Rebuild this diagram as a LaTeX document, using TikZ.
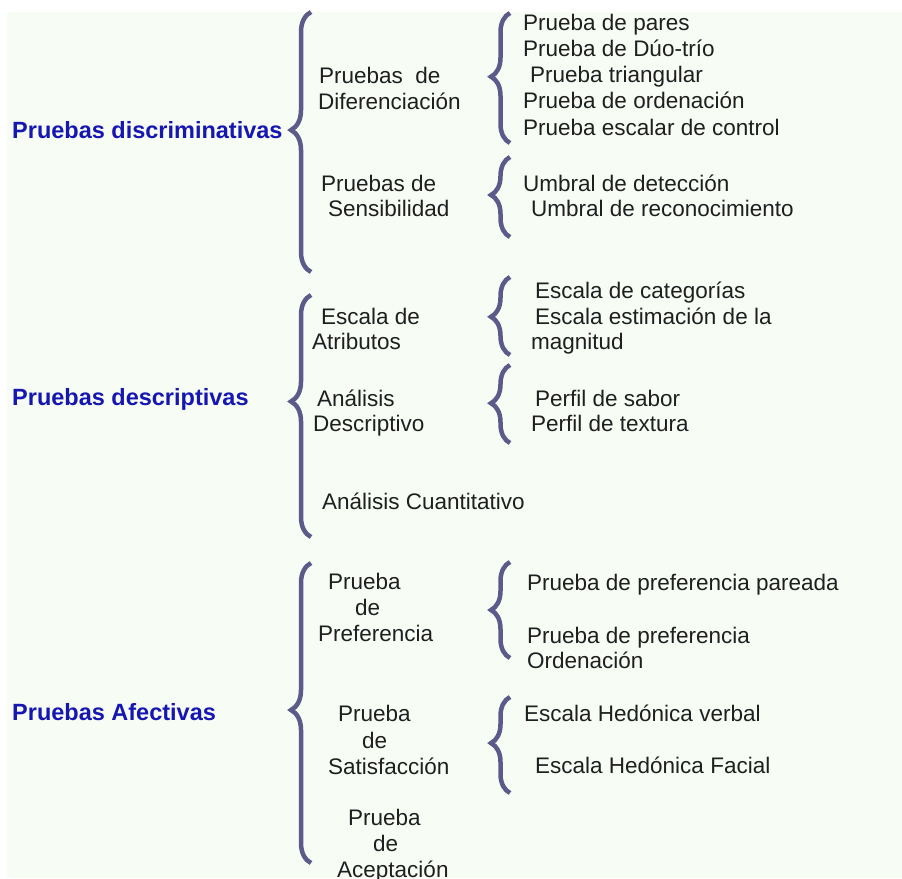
\documentclass[tikz,border=0pt]{standalone}
\usepackage{fontspec}
\setmainfont{Liberation Sans}
\usetikzlibrary{decorations.pathreplacing}
\definecolor{fondo}{RGB}{247,252,245}
\definecolor{llave}{RGB}{92,90,138}
\definecolor{titulo}{RGB}{22,22,178}

\begin{document}
\begin{tikzpicture}[x=1pt,y=-1pt,
    txt/.style={anchor=west,inner sep=0pt,text height=16pt,text depth=0pt,
        font=\fontsize{22.5}{26}\selectfont,text=black!88},
    tit/.style={txt,font=\fontsize{23.5}{28}\selectfont\bfseries,text=titulo},
    llavegr/.style={draw=llave,line width=4.5pt,decorate,
        decoration={brace,amplitude=20pt,aspect=#1}},
    llavech/.style={draw=llave,line width=4.5pt,decorate,
        decoration={brace,amplitude=19pt,aspect=#1}}]
    \useasboundingbox (0,0) rectangle (902,878);
    \fill[white] (0,0) rectangle (902,878);
    \fill[fondo] (7,12) rectangle (902,878);

    % titulos
    \node[tit] (disc) at (12,130) {Pruebas discriminativas};
    \node[tit] (desc) at (12,397) {Pruebas descriptivas};
    \node[tit] (afec) at (12,712) {Pruebas Afectivas};

    % segundo nivel
    \node[txt] (dif1) at (319,75) {Pruebas~~de};
    \node[txt] (dif2) at (318,101) {Diferenciación};
    \node[txt] (sen1) at (321,183) {Pruebas de};
    \node[txt] (sen2) at (328,208) {Sensibilidad};
    \node[txt] (atr1) at (321,316) {Escala de};
    \node[txt] (atr2) at (312,341) {Atributos};
    \node[txt] (ades1) at (317,398) {Análisis};
    \node[txt] (ades2) at (313,423) {Descriptivo};
    \node[txt] (acuan) at (322,501) {Análisis Cuantitativo};
    \node[txt] (pref1) at (328,581) {Prueba};
    \node[txt] (pref2) at (355,607) {de};
    \node[txt] (pref3) at (318,633) {Preferencia};
    \node[txt] (sat1) at (338,713) {Prueba};
    \node[txt] (sat2) at (362,740) {de};
    \node[txt] (sat3) at (328,766) {Satisfacción};
    \node[txt] (acep1) at (348,817) {Prueba};
    \node[txt] (acep2) at (373,843) {de};
    \node[txt] (acep3) at (337,869) {Aceptación};

    % tercer nivel
    \node[txt] (par) at (523,22) {Prueba de pares};
    \node[txt] (duo) at (523,48) {Prueba de Dúo-trío};
    \node[txt] (tri) at (530,74) {Prueba triangular};
    \node[txt] (ord) at (523,100) {Prueba de ordenación};
    \node[txt] (esc) at (523,127) {Prueba escalar de control};
    \node[txt] (udet) at (523,183) {Umbral de detección};
    \node[txt] (urec) at (531,208) {Umbral de reconocimiento};
    \node[txt] (ecat) at (535,290) {Escala de categorías};
    \node[txt] (emag1) at (535,316) {Escala estimación de la};
    \node[txt] (emag2) at (531,341) {magnitud};
    \node[txt] (psab) at (535,398) {Perfil de sabor};
    \node[txt] (ptex) at (531,423) {Perfil de textura};
    \node[txt] (ppar) at (527,582) {Prueba de preferencia pareada};
    \node[txt] (pord1) at (527,635) {Prueba de preferencia};
    \node[txt] (pord2) at (527,660) {Ordenación};
    \node[txt] (hver) at (524,713) {Escala Hedónica verbal};
    \node[txt] (hfac) at (535,765) {Escala Hedónica Facial};

    % llaves grandes
    \coordinate (disc-a) at (311,272);
    \coordinate (disc-b) at (311,12);
    \coordinate (desc-a) at (311,537);
    \coordinate (desc-b) at (311,295);
    \coordinate (afec-a) at (311,863);
    \coordinate (afec-b) at (311,563);
    \draw[llavegr=0.546] (disc-a) -- (disc-b);
    \draw[llavegr=0.56] (desc-a) -- (desc-b);
    \draw[llavegr=0.51] (afec-a) -- (afec-b);

    % llaves chicas
    \coordinate (dif-a) at (510,143);
    \coordinate (dif-b) at (510,13);
    \coordinate (sen-a) at (510,237);
    \coordinate (sen-b) at (510,157);
    \coordinate (atr-a) at (510,355);
    \coordinate (atr-b) at (510,277);
    \coordinate (ades-a) at (510,443);
    \coordinate (ades-b) at (510,365);
    \coordinate (pref-a) at (510,658);
    \coordinate (pref-b) at (510,562);
    \coordinate (sat-a) at (510,793);
    \coordinate (sat-b) at (510,697);
    \draw[llavech=0.51] (dif-a) -- (dif-b);
    \draw[llavech=0.525] (sen-a) -- (sen-b);
    \draw[llavech=0.49] (atr-a) -- (atr-b);
    \draw[llavech=0.51] (ades-a) -- (ades-b);
    \draw[llavech=0.5] (pref-a) -- (pref-b);
    \draw[llavech=0.52] (sat-a) -- (sat-b);
\end{tikzpicture}
\end{document}
